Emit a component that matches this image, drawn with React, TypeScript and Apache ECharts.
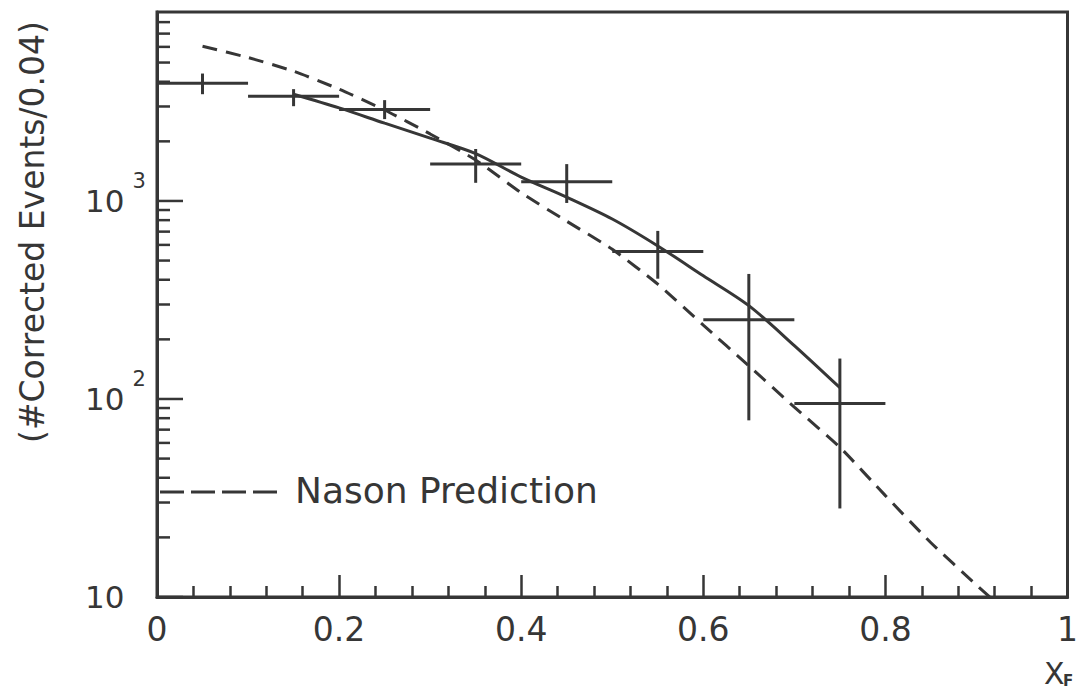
import React, { useEffect, useRef } from "react";
import * as echarts from "echarts";

// Measured spectrum, bins of width 0.1 in x_F
const binCenters = [0.05, 0.15, 0.25, 0.35, 0.45, 0.55, 0.65, 0.75];
const binWidth = 0.1;
const counts = [3930, 3380, 2900, 1535, 1250, 555, 251, 95];
const errHigh = [4400, 3670, 3230, 1830, 1535, 706, 428, 160];
const errLow = [3460, 3010, 2590, 1235, 977, 405, 78, 28];

// Fit to the data (solid curve)
const fitX = [0.15, 0.2, 0.25, 0.3, 0.35, 0.4, 0.45, 0.5, 0.55, 0.6, 0.65, 0.7, 0.75];
const fitY = [3460, 2950, 2470, 2075, 1735, 1320, 1045, 811, 593, 419, 296, 186, 114];

// Nason prediction (dashed curve)
const nasonX = [0.05, 0.1, 0.15, 0.2, 0.25, 0.3, 0.35, 0.4, 0.45, 0.5, 0.55, 0.6, 0.65, 0.7, 0.75, 0.8, 0.85, 0.9, 0.92];
const nasonY = [6040, 5300, 4520, 3670, 2880, 2180, 1610, 1100, 790, 570, 380, 236, 147, 91, 57, 32.5, 18.8, 11.5, 9.5];

// Log-axis tick marks: decades and the 2..9 subdivisions
const yMajorTicks = [10, 100, 1000];
const yMinorTicks = [
  20, 30, 40, 50, 60, 70, 80, 90,
  200, 300, 400, 500, 600, 700, 800, 900,
  2000, 3000, 4000, 5000, 6000, 7000, 8000,
];

const INK = "#363636";
const FONT = "DejaVu Sans";

export default function App() {
  const ref = useRef<HTMLDivElement>(null);

  useEffect(() => {
    if (!ref.current) return;
    const chart = echarts.init(ref.current, undefined, { renderer: "svg" });

    const tickSeries = (values: number[], len: number) => ({
      type: "custom",
      coordinateSystem: "cartesian2d",
      silent: true,
      clip: false,
      data: values.map((v) => [0, v]),
      renderItem: (_params: any, api: any) => {
        const p = api.coord([0, api.value(1)]);
        return {
          type: "line",
          shape: { x1: p[0], y1: p[1], x2: p[0] + len, y2: p[1] },
          style: { stroke: INK, lineWidth: 2.5 },
        };
      },
    });

    chart.setOption({
      animation: false,
      backgroundColor: "#ffffff",
      grid: {
        left: 157,
        right: 9,
        top: 12,
        bottom: 97,
        show: true,
        borderColor: INK,
        borderWidth: 3,
      },
      xAxis: {
        type: "value",
        min: 0,
        max: 1,
        interval: 0.2,
        axisLine: { show: true, lineStyle: { color: INK, width: 3 } },
        axisTick: { show: true, inside: true, length: 22, lineStyle: { color: INK, width: 2.5 } },
        minorTick: { show: true, splitNumber: 5, length: 11, lineStyle: { color: INK, width: 2.5 } },
        splitLine: { show: false },
        axisLabel: {
          margin: 16,
          fontSize: 33,
          fontFamily: FONT,
          color: INK,
          formatter: (v: number) => (v === 0 ? "0" : v === 1 ? "1" : v.toFixed(1)),
        },
      },
      yAxis: {
        type: "log",
        logBase: 10,
        min: 10,
        max: 9000,
        axisLine: { show: true, lineStyle: { color: INK, width: 3 } },
        axisTick: { show: false },
        minorTick: { show: false },
        splitLine: { show: false },
        axisLabel: {
          showMaxLabel: false,
          align: "left",
          margin: 72,
          fontSize: 31,
          color: INK,
          fontFamily: FONT,
          formatter: (v: number) => {
            const e = Math.round(Math.log10(v));
            return e === 1 ? "{b|10}" : "{b|10}{s|" + e + "}";
          },
          rich: {
            b: { fontSize: 31, lineHeight: 60, fontFamily: FONT, color: INK },
            s: { fontSize: 21, lineHeight: 20, fontFamily: FONT, color: INK, padding: [0, 0, 40, 8] },
          },
        },
      },
      series: [
        tickSeries(yMajorTicks, 26),
        tickSeries(yMinorTicks, 13),
        {
          type: "line",
          data: fitX.map((x, i) => [x, fitY[i]]),
          showSymbol: false,
          smooth: 0.3,
          lineStyle: { color: INK, width: 3 },
        },
        {
          type: "line",
          data: nasonX.map((x, i) => [x, nasonY[i]]),
          showSymbol: false,
          smooth: 0.2,
          lineStyle: { color: INK, width: 3, type: [15, 9] },
        },
        {
          type: "custom",
          coordinateSystem: "cartesian2d",
          data: binCenters.map((x, i) => [x, counts[i], errLow[i], errHigh[i]]),
          encode: { x: 0, y: [1, 2, 3] },
          renderItem: (_params: any, api: any) => {
            const x = api.value(0);
            const y = api.value(1);
            const l = api.coord([x - binWidth / 2, y]);
            const r = api.coord([x + binWidth / 2, y]);
            const t = api.coord([x, api.value(3)]);
            const b = api.coord([x, api.value(2)]);
            const style = { stroke: INK, lineWidth: 3 };
            return {
              type: "group",
              children: [
                { type: "line", shape: { x1: l[0], y1: l[1], x2: r[0], y2: r[1] }, style },
                { type: "line", shape: { x1: t[0], y1: t[1], x2: b[0], y2: b[1] }, style },
              ],
            };
          },
        },
      ],
      graphic: [
        {
          type: "line",
          shape: { x1: 160, y1: 492, x2: 278, y2: 492 },
          style: { stroke: INK, lineWidth: 3, lineDash: [24, 7] },
        },
        {
          type: "text",
          x: 295,
          y: 490,
          style: {
            text: "Nason Prediction",
            font: `36px "${FONT}"`,
            fill: INK,
            verticalAlign: "middle",
          },
        },
        {
          type: "text",
          x: 32,
          y: 232,
          rotation: Math.PI / 2,
          style: {
            text: "(#Corrected Events/0.04)",
            font: `33px "${FONT}"`,
            fill: INK,
            align: "center",
            verticalAlign: "middle",
          },
        },
        {
          type: "text",
          x: 1044,
          y: 658,
          style: {
            text: "X",
            font: `30px "${FONT}"`,
            fill: INK,
          },
        },
        {
          type: "text",
          x: 1063,
          y: 673,
          style: {
            text: "F",
            font: `bold 15px "${FONT}"`,
            fill: INK,
          },
        },
      ],
    });

    return () => chart.dispose();
  }, []);

  return (
    <div
      ref={ref}
      style={{ position: "fixed", left: 0, top: 0, width: 1081, height: 694 }}
    />
  );
}
